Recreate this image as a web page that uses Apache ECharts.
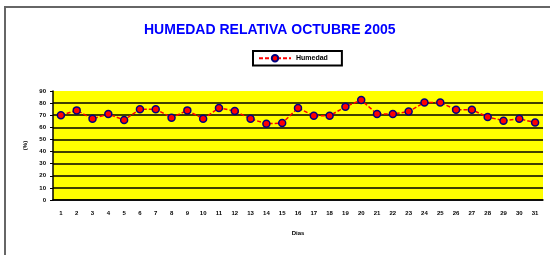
<!DOCTYPE html>
<html>
<head>
<meta charset="utf-8">
<script src="https://cdn.jsdelivr.net/npm/echarts@6/dist/echarts.min.js"></script>
<style>
  html, body { margin: 0; padding: 0; background: #fff; }
  #chart { width: 550px; height: 255px; }
</style>
</head>
<body>
<div id="chart"></div>
<script>
  // dias del mes
  var dias = [];
  for (var d = 1; d <= 31; d++) dias.push(String(d));
  // humedad relativa (%)
  var humedad = [70, 74, 67, 71, 66, 75, 75, 68, 74, 67, 76, 73.5, 67, 63, 63.5,
                 76, 69.5, 69.5, 77, 82.5, 71, 71, 73, 80.5, 80.5, 74.5, 74.5, 68.5, 65.5, 67, 64];
  var yMin = 0, yMax = 90, yStep = 10;

  var myChart = echarts.init(document.getElementById('chart'));
  var option = {
    backgroundColor: '#fff',
    animation: false,
    title: {
      text: 'HUMEDAD RELATIVA OCTUBRE 2005',
      left: 139,
      top: 18,
      textStyle: { color: '#0000ff', fontSize: 14, fontWeight: 'bold', fontFamily: 'Liberation Sans' }
    },
    legend: {
      data: ['Humedad'],
      left: 253,
      top: 51,
      padding: [3, 14, 3, 5],
      itemWidth: 32,
      itemHeight: 8,
      itemGap: 4,
      borderColor: '#000',
      borderWidth: 2,
      textStyle: { fontSize: 7, fontWeight: 'bold', color: '#000', fontFamily: 'Liberation Sans' }
    },
    graphic: [{
      type: 'rect',
      shape: { x: 5, y: 7, width: 570, height: 270 },
      style: { fill: 'none', stroke: '#666', lineWidth: 2 },
      z: -1
    }],
    grid: { left: 53, right: 7, top: 91, bottom: 55, backgroundColor: '#ffff00', show: true, borderWidth: 0 },
    xAxis: {
      type: 'category',
      data: dias,
      name: 'Dias',
      nameLocation: 'middle',
      nameGap: 30,
      nameTextStyle: { fontSize: 6, fontWeight: 'bold', color: '#000', fontFamily: 'Liberation Sans' },
      axisLine: { lineStyle: { color: '#000', width: 1.5 } },
      axisTick: { lineStyle: { color: '#000' }, length: 3 },
      axisLabel: { fontSize: 6, fontWeight: 'bold', color: '#000', margin: 10, interval: 0, fontFamily: 'Liberation Sans' }
    },
    yAxis: {
      type: 'value',
      min: yMin,
      max: yMax,
      interval: yStep,
      name: '(%)',
      nameLocation: 'middle',
      nameGap: 25,
      nameTextStyle: { fontSize: 6, fontWeight: 'bold', color: '#000', fontFamily: 'Liberation Sans' },
      axisLine: { show: true, lineStyle: { color: '#000', width: 1.5 } },
      axisTick: { show: true, length: 3, lineStyle: { color: '#000' } },
      axisLabel: { fontSize: 6, fontWeight: 'bold', color: '#000', margin: 7, fontFamily: 'Liberation Sans' },
      splitLine: { showMaxLine: false, lineStyle: { color: '#000', width: 1.5 } }
    },
    series: [{
      name: 'Humedad',
      type: 'line',
      data: humedad,
      symbol: 'circle',
      symbolSize: 7,
      lineStyle: { color: '#ff0000', width: 1.5, type: [4, 2] },
      itemStyle: { color: '#ff0000', borderColor: '#000080', borderWidth: 1.5 }
    }]
  };
  myChart.setOption(option);
</script>
</body>
</html>
